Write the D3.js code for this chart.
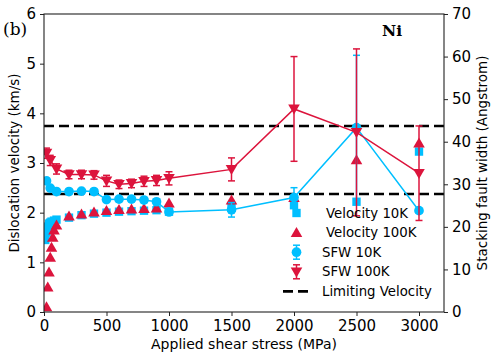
<!DOCTYPE html>
<html>
<head>
<meta charset="utf-8">
<script src="https://cdn.jsdelivr.net/npm/d3@7"></script>
<style>
  body { margin: 0; background: #fff; }
  text { fill: #000; }
</style>
</head>
<body>
<div class="container"></div>
<script>
const width = 499;
const height = 362;
const margin = { top: 14, right: 55, bottom: 50, left: 44 };

// velocity (km/s), left axis
const v10Stress = [10, 20, 30, 40, 50, 60, 80, 100, 200, 300, 400, 500, 600, 700, 800, 900, 1000, 1500, 2000, 2500, 3000];
const v10Vel = [1.45, 1.6, 1.72, 1.78, 1.8, 1.82, 1.84, 1.86, 1.9, 1.95, 1.98, 2.0, 2.02, 2.03, 2.04, 2.05, 2.02, 2.1, 2.15, 2.22, 3.23];

const v100Stress = [20, 30, 40, 50, 60, 70, 80, 100, 200, 300, 400, 500, 600, 700, 800, 900, 1000, 1500, 2000, 2500, 3000];
const v100Vel = [0.1, 0.5, 0.8, 1.1, 1.3, 1.5, 1.65, 1.75, 1.93, 1.97, 2.01, 2.04, 2.06, 2.07, 2.08, 2.09, 2.19, 2.25, 2.3, 3.06, 3.4];

// stacking fault width (Angstrom), right axis
const sfwStress = [20, 50, 100, 200, 300, 400, 500, 600, 700, 800, 900, 1000, 1500, 2000, 2500, 3000];
const sfw10 = [30.8, 29.1, 28.3, 28.3, 28.4, 28.3, 26.4, 26.5, 26.5, 26.3, 25.9, 23.5, 24.0, 26.9, 43.3, 23.8];
const sfw10Err = [0.6, 0.5, 0.5, 0.5, 0.5, 0.5, 0.5, 0.5, 0.5, 0.5, 0.6, 0.6, 1.7, 2.3, 17, 0.5];
const sfw100 = [37.3, 35.6, 33.6, 32.3, 32.3, 32.2, 30.8, 30.0, 30.2, 30.7, 30.9, 31.4, 33.5, 47.7, 42.2, 32.6];
const sfw100Err = [1.2, 1.2, 1.2, 1.0, 1.0, 1.0, 1.3, 1.0, 1.0, 1.2, 1.2, 1.55, 2.7, 12.3, 19.6, 11.1];

const limitVel = [3.745, 2.376];

const xTicks = [0, 500, 1000, 1500, 2000, 2500, 3000];
const yTicks = [0, 1, 2, 3, 4, 5, 6];
const y2Ticks = [0, 10, 20, 30, 40, 50, 60, 70];

const red = '#dc143c';
const blue = '#00bfff';
const sans = '"DejaVu Sans", sans-serif';
const serif = '"DejaVu Serif", serif';

const x = d3.scaleLinear().domain([0, 3200]).range([margin.left, width - margin.right]);
const y = d3.scaleLinear().domain([0, 6]).range([height - margin.bottom, margin.top]);
const y2 = d3.scaleLinear().domain([0, 70]).range([height - margin.bottom, margin.top]);

const svg = d3.select('.container')
  .append('svg')
  .attr('width', width)
  .attr('height', height)
  .style('font-family', sans);

svg.append('defs').append('clipPath').attr('id', 'clip')
  .append('rect')
  .attr('x', margin.left).attr('y', margin.top)
  .attr('width', width - margin.left - margin.right)
  .attr('height', height - margin.top - margin.bottom);

const plot = svg.append('g').attr('clip-path', 'url(#clip)');

// limiting velocity lines
plot.selectAll('.limit')
  .data(limitVel)
  .enter()
  .append('line')
  .attr('x1', margin.left)
  .attr('x2', width - margin.right)
  .attr('y1', d => y(d))
  .attr('y2', d => y(d))
  .attr('stroke', '#000')
  .attr('stroke-width', 2.6)
  .attr('stroke-dasharray', '10,5');

const square = d3.symbol().type(d3.symbolSquare).size(70);
const tri = d3.symbol().type(d3.symbolTriangle).size(58);
const circ = d3.symbol().type(d3.symbolCircle).size(74);

// velocity scatter
plot.selectAll('.v10')
  .data(v10Stress)
  .enter()
  .append('path')
  .attr('d', square)
  .attr('fill', blue)
  .attr('transform', (d, i) => `translate(${x(d)},${y(v10Vel[i])})`);

plot.selectAll('.v100')
  .data(v100Stress)
  .enter()
  .append('path')
  .attr('d', tri)
  .attr('fill', red)
  .attr('transform', (d, i) => `translate(${x(d)},${y(v100Vel[i]) + 1})`);

function sfwSeries(vals, errs, color, marker, rot) {
  const pts = sfwStress.map((s, i) => ({ s, w: vals[i], e: errs[i] }));
  const g = plot.append('g');
  g.append('path')
    .datum(pts)
    .attr('fill', 'none')
    .attr('stroke', color)
    .attr('stroke-width', 1.5)
    .attr('d', d3.line().x(d => x(d.s)).y(d => y2(d.w)));
  const eb = g.selectAll('.eb').data(pts).enter().append('g');
  eb.append('line')
    .attr('x1', d => x(d.s)).attr('x2', d => x(d.s))
    .attr('y1', d => y2(d.w - d.e)).attr('y2', d => y2(d.w + d.e))
    .attr('stroke', color).attr('stroke-width', 1.5);
  [-1, 1].forEach(sign => {
    eb.append('line')
      .attr('x1', d => x(d.s) - 3.5).attr('x2', d => x(d.s) + 3.5)
      .attr('y1', d => y2(d.w + sign * d.e)).attr('y2', d => y2(d.w + sign * d.e))
      .attr('stroke', color).attr('stroke-width', 1.5);
  });
  g.selectAll('.mk').data(pts).enter().append('path')
    .attr('d', marker)
    .attr('fill', color)
    .attr('transform', d => `translate(${x(d.s)},${y2(d.w) + (rot ? -1 : 0)}) rotate(${rot})`);
}

sfwSeries(sfw10, sfw10Err, blue, circ, 0);
sfwSeries(sfw100, sfw100Err, red, tri, 180);

// axes
const axisColor = '#222';
const fmt = d3.format('d');
const xAxis = svg.append('g')
  .attr('transform', `translate(0,${height - margin.bottom})`)
  .call(d3.axisBottom(x).tickValues(xTicks).tickFormat(fmt).tickSize(4).tickPadding(4));
const yAxis = svg.append('g')
  .attr('transform', `translate(${margin.left},0)`)
  .call(d3.axisLeft(y).tickValues(yTicks).tickFormat(fmt).tickSize(4).tickPadding(4));
const y2Axis = svg.append('g')
  .attr('transform', `translate(${width - margin.right},0)`)
  .call(d3.axisRight(y2).tickValues(y2Ticks).tickFormat(fmt).tickSize(4).tickPadding(4));

[xAxis, yAxis, y2Axis].forEach(a => {
  a.attr('font-family', null).attr('font-size', null);
  a.select('.domain').remove();
  a.selectAll('line').attr('stroke', axisColor).attr('stroke-width', 1);
  a.selectAll('text').style('font-size', '15px').style('font-family', sans).attr('fill', '#000');
});

svg.append('rect')
  .attr('x', margin.left).attr('y', margin.top)
  .attr('width', width - margin.left - margin.right)
  .attr('height', height - margin.top - margin.bottom)
  .attr('fill', 'none')
  .attr('stroke', axisColor)
  .attr('stroke-width', 1.1);

// axis labels
svg.append('text')
  .attr('x', (margin.left + width - margin.right) / 2)
  .attr('y', 349)
  .attr('text-anchor', 'middle')
  .style('font-size', '14px')
  .text('Applied shear stress (MPa)');

svg.append('text')
  .attr('transform', 'translate(18.5,163) rotate(-90)')
  .attr('text-anchor', 'middle')
  .style('font-size', '13.5px')
  .text('Dislocation velocity (km/s)');

svg.append('text')
  .attr('transform', 'translate(487,163) rotate(-90)')
  .attr('text-anchor', 'middle')
  .style('font-size', '13.5px')
  .text('Stacking fault width (Angstrom)');

svg.append('text')
  .attr('x', 3).attr('y', 35)
  .style('font-family', serif)
  .style('font-size', '17px')
  .text('(b)');

svg.append('text')
  .attr('x', 382).attr('y', 36)
  .style('font-family', serif)
  .style('font-weight', 'bold')
  .style('font-size', '15.5px')
  .text('Ni');

// legend
const legend = [
  { label: 'Velocity 10K', kind: 'square', color: blue, tx: 326 },
  { label: 'Velocity 100K', kind: 'up', color: red, tx: 326 },
  { label: 'SFW 10K', kind: 'circle', color: blue, tx: 322 },
  { label: 'SFW 100K', kind: 'down', color: red, tx: 322 },
  { label: 'Limiting Velocity', kind: 'dash', color: '#000', tx: 322 },
];

const lg = svg.selectAll('.lg')
  .data(legend)
  .enter()
  .append('g')
  .attr('transform', (d, i) => `translate(0,${213 + i * 19.6})`);

lg.each(function (d) {
  const g = d3.select(this);
  const mx = 296.5;
  if (d.kind === 'dash') {
    g.append('line')
      .attr('x1', 283).attr('x2', 310).attr('y1', 0).attr('y2', 0)
      .attr('stroke', '#000').attr('stroke-width', 2.6).attr('stroke-dasharray', '10,5');
    return;
  }
  if (d.kind === 'circle' || d.kind === 'down') {
    g.append('line').attr('x1', mx).attr('x2', mx).attr('y1', -7).attr('y2', 7)
      .attr('stroke', d.color).attr('stroke-width', 1.5);
    [-7, 7].forEach(cy => g.append('line')
      .attr('x1', mx - 3.5).attr('x2', mx + 3.5).attr('y1', cy).attr('y2', cy)
      .attr('stroke', d.color).attr('stroke-width', 1.5));
  }
  const sym = { square, up: tri, circle: circ, down: tri }[d.kind];
  g.append('path')
    .attr('d', sym)
    .attr('fill', d.color)
    .attr('transform', `translate(${mx},${d.kind === 'down' ? -1 : d.kind === 'up' ? 1 : 0}) rotate(${d.kind === 'down' ? 180 : 0})`);
});

lg.append('text')
  .attr('x', d => d.tx)
  .attr('y', 4.5)
  .style('font-size', '13.3px')
  .text(d => d.label);
</script>
</body>
</html>
